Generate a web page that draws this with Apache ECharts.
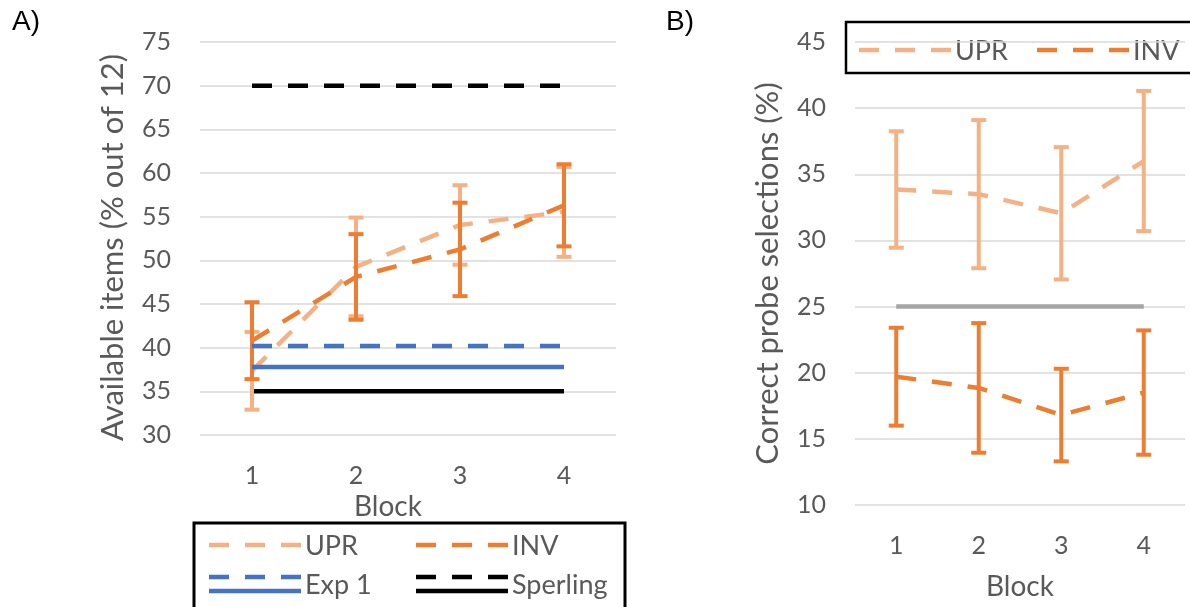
<!DOCTYPE html>
<html>
<head>
<meta charset="utf-8">
<script src="https://cdn.jsdelivr.net/npm/echarts@6/dist/echarts.min.js"></script>
<style>
  html, body { margin: 0; padding: 0; background: #ffffff; }
  #chart { width: 1190px; height: 607px; }
</style>
</head>
<body>
<div id="chart"></div>
<script>
// Block numbers on both x axes
const blocks = ['1', '2', '3', '4'];

// Panel A: available items (% out of 12)
const uprA = [37.35, 49.25, 54.05, 55.55];
const uprErrA = [4.45, 5.65, 4.55, 5.15];
const invA = [40.8, 48.1, 51.25, 56.3];
const invErrA = [4.4, 4.9, 5.35, 4.7];
const exp1Upper = 40.2;
const exp1Lower = 37.8;
const sperlingUpper = 70;
const sperlingLower = 35;
const ticksA = { min: 30, max: 75, interval: 5 };

// Panel B: correct probe selections (%)
const uprB = [33.85, 33.5, 32.05, 36.0];
const uprErrB = [4.4, 5.6, 5.0, 5.3];
const invB = [19.7, 18.85, 16.8, 18.5];
const invErrB = [3.7, 4.9, 3.5, 4.7];
const chanceB = 25;
const ticksB = { min: 10, max: 45, interval: 5 };

const C_UPR = '#F4B183';
const C_INV = '#ED7D31';
const C_EXP = '#4472C4';
const C_SPER = '#000000';
const C_CHANCE = '#A5A5A5';
const TXT = '#595959';
const FONT = 'Lato';
const DASH = [20, 16];
const LW = 4.5;

const flat = v => blocks.map(() => v);
const errRows = (mean, err) => mean.map((m, i) => [i, m - err[i], m + err[i]]);

function errorBars(name, color, xi, yi, rows, z) {
  return {
    type: 'custom', name, xAxisIndex: xi, yAxisIndex: yi, z,
    data: rows,
    encode: { x: 0, y: [1, 2] },
    renderItem(params, api) {
      const top = api.coord([api.value(0), api.value(2)]);
      const bot = api.coord([api.value(0), api.value(1)]);
      const hw = 7.5;
      const st = { stroke: color, lineWidth: 4 };
      return {
        type: 'group',
        children: [
          { type: 'line', shape: { x1: top[0], y1: top[1], x2: bot[0], y2: bot[1] }, style: st },
          { type: 'line', shape: { x1: top[0] - hw, y1: top[1], x2: top[0] + hw, y2: top[1] }, style: st },
          { type: 'line', shape: { x1: bot[0] - hw, y1: bot[1], x2: bot[0] + hw, y2: bot[1] }, style: st }
        ]
      };
    }
  };
}

function lineSeries(name, color, xi, yi, data, dashed, z) {
  return {
    type: 'line', name, xAxisIndex: xi, yAxisIndex: yi, z,
    data, symbol: 'none', silent: true, animation: false,
    lineStyle: { color, width: LW, type: dashed ? DASH : 'solid' }
  };
}

function legendItem(x, y, color, label, withSolid) {
  const items = [
    { type: 'line', shape: { x1: x + 1, y1: y, x2: x + 93, y2: y },
      style: { stroke: color, lineWidth: LW, lineDash: DASH } },
    { type: 'text', x: x + 97, y: y + 1,
      style: { text: label, fill: TXT, font: '27px ' + FONT, textVerticalAlign: 'middle' } }
  ];
  if (withSolid) {
    items[0].shape.y1 = items[0].shape.y2 = y - 7;
    items.push({ type: 'line', shape: { x1: x + 1, y1: y + 7, x2: x + 93, y2: y + 7 },
      style: { stroke: color, lineWidth: LW } });
  }
  return items;
}

const axisLabelStyle = { color: TXT, fontSize: 25, fontFamily: FONT };
const nameStyle = { color: TXT, fontSize: 31, fontFamily: FONT };
const blockStyle = { color: TXT, fontSize: 28, fontFamily: FONT };

const chart = echarts.init(document.getElementById('chart'), null, { renderer: 'canvas' });
chart.setOption({
  backgroundColor: '#ffffff',
  animation: false,
  grid: [
    { left: 200, right: 574, top: 42, bottom: 172, outerBoundsMode: 'none', containLabel: false },
    { left: 855, right: 5, top: 42, bottom: 102, outerBoundsMode: 'none', containLabel: false }
  ],
  xAxis: [0, 1].map(i => ({
    type: 'category', gridIndex: i, data: blocks, boundaryGap: true,
    axisLine: { show: false }, axisTick: { show: false },
    axisLabel: Object.assign({ margin: 28 }, axisLabelStyle),
    name: 'Block', nameLocation: 'middle', nameGap: i === 0 ? 58 : 68,
    nameTextStyle: Object.assign({ padding: i === 0 ? [0, 40, 0, 0] : 0 }, blockStyle)
  })),
  yAxis: [
    Object.assign({ type: 'value', gridIndex: 0 }, ticksA, {
      name: 'Available items (% out of 12)', nameLocation: 'middle', nameGap: 72,
      nameTextStyle: Object.assign({ padding: [0, 18, 0, 0] }, nameStyle),
      axisLine: { show: false }, axisTick: { show: false },
      axisLabel: Object.assign({ margin: 29 }, axisLabelStyle),
      splitLine: { lineStyle: { color: '#D9D9D9', width: 1.5 } }
    }),
    Object.assign({ type: 'value', gridIndex: 1 }, ticksB, {
      name: 'Correct probe selections (%)', nameLocation: 'middle', nameGap: 72,
      nameTextStyle: nameStyle,
      axisLine: { show: false }, axisTick: { show: false },
      axisLabel: Object.assign({ margin: 29 }, axisLabelStyle),
      splitLine: { lineStyle: { color: '#D9D9D9', width: 1.5 } }
    })
  ],
  series: [
    lineSeries('Sperling', C_SPER, 0, 0, flat(sperlingUpper), true, 2),
    lineSeries('Sperling', C_SPER, 0, 0, flat(sperlingLower), false, 2),
    lineSeries('UPR', C_UPR, 0, 0, uprA, true, 3),
    lineSeries('INV', C_INV, 0, 0, invA, true, 3),
    errorBars('UPR', C_UPR, 0, 0, errRows(uprA, uprErrA), 4),
    errorBars('INV', C_INV, 0, 0, errRows(invA, invErrA), 5),
    lineSeries('Exp 1', C_EXP, 0, 0, flat(exp1Upper), true, 6),
    lineSeries('Exp 1', C_EXP, 0, 0, flat(exp1Lower), false, 6),

    lineSeries('Chance', C_CHANCE, 1, 1, flat(chanceB), false, 2),
    lineSeries('UPR', C_UPR, 1, 1, uprB, true, 3),
    lineSeries('INV', C_INV, 1, 1, invB, true, 3),
    errorBars('UPR', C_UPR, 1, 1, errRows(uprB, uprErrB), 4),
    errorBars('INV', C_INV, 1, 1, errRows(invB, invErrB), 5)
  ],
  graphic: [
    { type: 'text', left: 12, top: 8, style: { text: 'A)', fill: '#000', font: '28px "Liberation Sans"' } },
    { type: 'text', left: 666, top: 8, style: { text: 'B)', fill: '#000', font: '28px "Liberation Sans"' } },
    // legend of panel A
    { type: 'group', z: 20, children: [].concat(
      [{ type: 'rect', shape: { x: 194, y: 523, width: 431, height: 100 },
         style: { fill: '#fff', stroke: '#000', lineWidth: 3 } }],
      legendItem(208, 545, C_UPR, 'UPR', false),
      legendItem(415, 545, C_INV, 'INV', false),
      legendItem(208, 584, C_EXP, 'Exp 1', true),
      legendItem(415, 584, C_SPER, 'Sperling', true)
    ) },
    // legend of panel B
    { type: 'group', z: 20, children: [].concat(
      [{ type: 'rect', shape: { x: 846, y: 22, width: 360, height: 51 },
         style: { fill: '#fff', stroke: '#000', lineWidth: 2.5 } }],
      legendItem(858, 50, C_UPR, 'UPR', false),
      legendItem(1036, 50, C_INV, 'INV', false)
    ) }
  ]
});
</script>
</body>
</html>
